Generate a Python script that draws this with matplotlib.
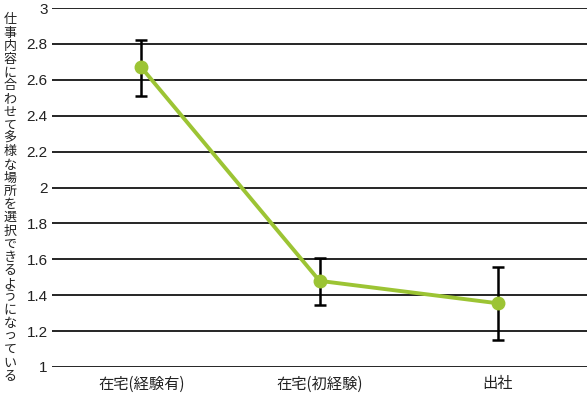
import numpy as np
import matplotlib
matplotlib.use("Agg")
import matplotlib.pyplot as plt

plt.rcParams['font.family'] = ['Noto Sans CJK JP', 'DejaVu Sans']

categories = ["在宅(経験有)", "在宅(初経験)", "出社"]
means = [2.67, 1.48, 1.355]
err_low = [2.51, 1.345, 1.15]
err_high = [2.82, 1.61, 1.555]
yticks = [1, 1.2, 1.4, 1.6, 1.8, 2, 2.2, 2.4, 2.6, 2.8, 3]
ylabel = "仕事内容に合わせて多様な場所を選択できるようになっている"

fig = plt.figure(figsize=(5.87, 3.97), dpi=100)
ax = fig.add_axes([52 / 587, 30 / 397, 535 / 587, 359 / 397])

x = np.arange(len(categories))
m = np.array(means)
yerr = [m - np.array(err_low), np.array(err_high) - m]

for t in yticks:
    ax.axhline(t, color="black", lw=1.2, zorder=1)

ax.errorbar(x, m, yerr=yerr, fmt="none", ecolor="black", elinewidth=1.8,
            capsize=4, capthick=1.8, zorder=2)
ax.plot(x, m, color="#9cc434", lw=2.8, marker="o", markersize=9, zorder=3)

ax.set_xlim(-0.5, 2.5)
ax.set_ylim(1, 3)
ax.set_yticks(yticks)
ax.set_yticklabels([f"{t:g}" for t in yticks], fontsize=11, color="#222222",
                   family=['Liberation Sans', 'DejaVu Sans'])
ax.set_xticks(x)
ax.set_xticklabels(categories, fontsize=11, color="#222222")
ax.tick_params(axis="y", length=0, pad=3)
ax.tick_params(axis="x", length=0, pad=6)
for s in ax.spines.values():
    s.set_visible(False)

fig.text(10 / 587, 1 - 198 / 397, "\n".join(ylabel), fontsize=9.4,
         ha="center", va="center", linespacing=1.02, color="#222222")

fig.savefig("out.png", dpi=100)
